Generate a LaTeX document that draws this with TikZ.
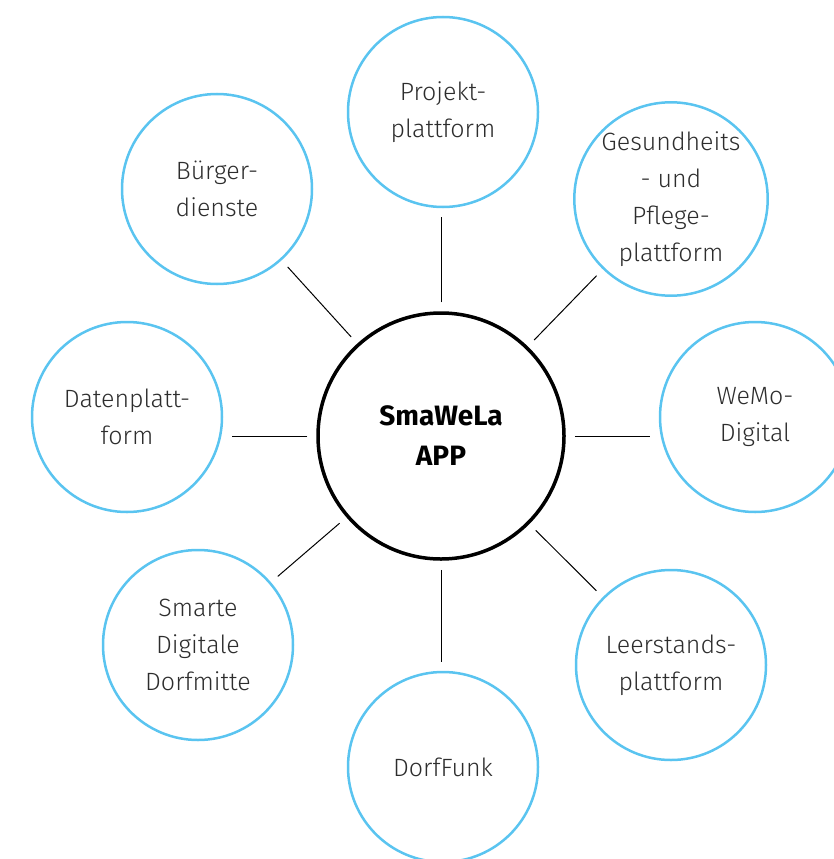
\documentclass[tikz,border=0pt]{standalone}
\usepackage{fontspec}
\setmainfont{Fira Sans Light}[BoldFont={Fira Sans Bold}]
\usepackage{tikz}
\definecolor{appblue}{RGB}{90,196,240}
\definecolor{apptext}{RGB}{45,45,45}

\begin{document}
\begin{tikzpicture}[x=1pt, y=-1pt,
    part/.style={circle, draw=appblue, line width=2.5pt, minimum size=190pt,
      inner sep=0pt, align=center, text=apptext,
      font=\fontsize{25}{37}\selectfont},
    hub/.style={circle, draw=black, line width=3.5pt, minimum size=246pt,
      inner sep=0pt, align=center, font=\fontsize{28}{40}\selectfont\bfseries},
    link/.style={line width=1pt, black, shorten <=9pt, shorten >=9pt}]
    \useasboundingbox (0,0) rectangle (834,859);
    \node[hub] (APP) at (441,436) {SmaWeLa\\APP};
    \node[part] (N1) at (443,112) {Projekt-\\plattform};
    \node[part] (N2) at (671,199) {Gesundheits\\- und\\Pflege-\\plattform};
    \node[part] (N3) at (755,417) {WeMo-\\Digital};
    \node[part] (N4) at (671,665) {Leerstands-\\plattform};
    \node[part] (N5) at (443,767) {DorfFunk};
    \node[part] (N6) at (198,645) {Smarte\\Digitale\\Dorfmitte};
    \node[part] (N7) at (127,417) {Datenplatt-\\form};
    \node[part] (N8) at (217,189) {Bürger-\\dienste};
    \draw[link] (APP.north) -- (APP.north |- N1.south);
    \draw[link] (APP) -- (N2);
    \draw[link] (APP.east) -- (N3.west |- APP.east);
    \draw[link] (APP) -- (N4);
    \draw[link] (APP.south) -- (APP.south |- N5.north);
    \draw[link] (APP) -- (N6);
    \draw[link] (APP.west) -- (N7.east |- APP.west);
    \draw[link] (APP) -- (N8);
  \end{tikzpicture}
\end{document}
